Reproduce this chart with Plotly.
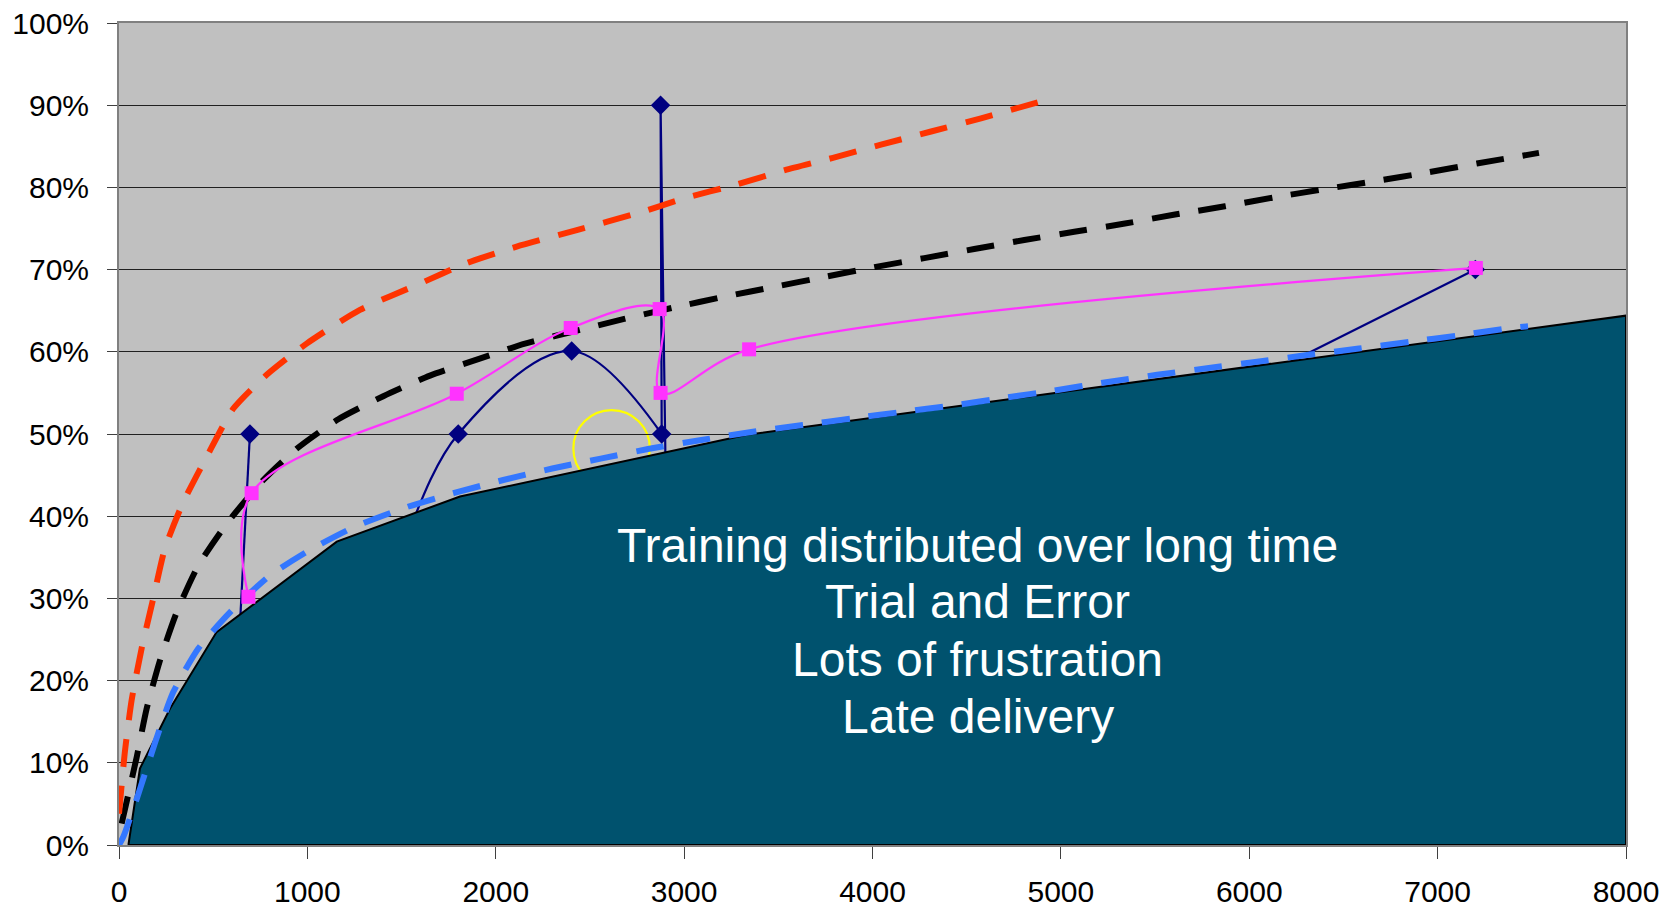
import plotly.graph_objects as go

# ---------------- data ----------------
x_ticks = [0, 1000, 2000, 3000, 4000, 5000, 6000, 7000, 8000]
y_ticks = [0, 10, 20, 30, 40, 50, 60, 70, 80, 90, 100]
y_tick_labels = ["0%", "10%", "20%", "30%", "40%", "50%", "60%", "70%", "80%", "90%", "100%"]

# filled teal region (boundary points)
area_x = [50, 111, 271, 518, 1156, 1810, 3334, 8000]
area_y = [0, 9.3, 16.6, 25.9, 36.9, 42.4, 49.9, 64.4]

# red dashed (upper) curve
red_x = [0, 32, 67, 120, 182, 244, 341, 465, 607, 784, 996, 1279, 1598, 1846, 2111,
         2430, 2758, 3005, 3270, 3535, 3790, 4045, 4311, 4576, 4900]
red_y = [3.8, 11.5, 17.6, 23.9, 30.0, 36.1, 41.7, 47.2, 53.1, 57.2, 61.0, 65.1, 68.3, 70.8, 72.8,
         74.8, 76.9, 78.7, 80.3, 82.1, 83.6, 85.2, 86.8, 88.4, 90.5]

# black dashed (middle) curve
black_x = [14, 32, 94, 147, 218, 306, 421, 572, 766, 943, 1164, 1403, 1651, 1907, 2155, 2417,
           2682, 2948, 3213, 3479, 3744, 4010, 4275, 4540, 4806, 5071, 5340, 5606, 5871, 6137,
           6402, 6677, 6943, 7208, 7538]
black_y = [2.6, 4.4, 10.7, 16.6, 22.5, 28.3, 34.0, 39.1, 44.4, 48.2, 51.8, 54.6, 57.1, 59.1, 61.0, 62.5,
           64.0, 65.4, 66.7, 67.9, 69.1, 70.3, 71.4, 72.5, 73.6, 74.6, 75.6, 76.7, 77.7, 78.8,
           79.8, 80.8, 81.8, 82.9, 84.2]

# blue dashed (lower) curve
blue_x = [0, 23, 97, 195, 288, 421, 589, 802, 1014, 1250, 1527, 1775, 2040, 2300, 2557, 2815,
          3100, 3374, 3630, 3896, 4161, 4436, 4701, 4967, 5240, 5511, 5776, 6042, 6307, 6582,
          6847, 7113, 7388, 7480]
blue_y = [0, 1.0, 5.8, 12.7, 18.6, 23.9, 28.3, 32.8, 35.9, 38.7, 41.1, 42.8, 44.4, 45.8, 47.0, 48.2,
          49.3, 50.3, 51.1, 51.9, 52.7, 53.5, 54.4, 55.3, 56.3, 57.2, 58.0, 58.8, 59.6, 60.4,
          61.2, 62.0, 62.9, 63.1]

# navy series (diamonds); some points lie hidden below the teal region
navy_x = [695, 615, 1250, 1801, 2403, 2881, 2875, 2905, 5000, 7200]
navy_y = [50, 15, 25, 50, 60.1, 50, 90, 40, 44.8, 70]
navy_marker_x = [695, 1801, 2403, 2881, 2875, 7200]
navy_marker_y = [50, 50, 60.1, 50, 90, 70]

# magenta series (squares)
mag_x = [687, 704, 1793, 2398, 2870, 2875, 3345, 7203]
mag_y = [30.2, 42.8, 54.9, 62.9, 65.2, 55.0, 60.3, 70.2]

# yellow circle (centre and radii in data units)
circle_cx, circle_cy, circle_rx, circle_ry = 2615, 48.25, 203, 4.66

text_lines = ["Training distributed over long time", "Trial and Error",
              "Lots of frustration", "Late delivery"]

# ---------------- figure ----------------
FONT = "Liberation Sans, Arial, sans-serif"
NAVY = "#000080"
fig = go.Figure()

# navy line pieces (drawn first so the teal region hides parts of it)
navy_pieces = [(0, 2, "linear"), (1, 6, "spline"), (5, 10, "linear")]
for a, b, shp in navy_pieces:
    fig.add_trace(go.Scatter(x=navy_x[a:b], y=navy_y[a:b], mode="lines",
                             line=dict(color=NAVY, width=2.2, shape=shp),
                             hoverinfo="skip"))

# teal region
fig.add_trace(go.Scatter(x=area_x + [area_x[-1], area_x[0]], y=area_y + [0, 0],
                         mode="lines", fill="toself", fillcolor="#00526E",
                         line=dict(color="black", width=2), hoverinfo="skip"))

dash_pat = "28px,19px"
fig.add_trace(go.Scatter(x=blue_x, y=blue_y, mode="lines",
                         line=dict(color="#3377FF", width=6, dash=dash_pat, shape="spline", smoothing=0.6)))
fig.add_trace(go.Scatter(x=black_x, y=black_y, mode="lines",
                         line=dict(color="#000000", width=6, dash=dash_pat, shape="spline", smoothing=0.6)))
fig.add_trace(go.Scatter(x=red_x, y=red_y, mode="lines",
                         line=dict(color="#FF3300", width=6, dash=dash_pat, shape="spline", smoothing=0.6)))

# navy markers
fig.add_trace(go.Scatter(x=navy_marker_x, y=navy_marker_y, mode="markers",
                         marker=dict(symbol="diamond", size=15, color=NAVY)))

# magenta series
fig.add_trace(go.Scatter(x=mag_x, y=mag_y, mode="lines+markers",
                         line=dict(color="#FF33FF", width=2.2, shape="spline", smoothing=1),
                         marker=dict(symbol="square", size=14, color="#FF33FF")))

fig.add_shape(type="circle", xref="x", yref="y",
              x0=circle_cx - circle_rx, x1=circle_cx + circle_rx,
              y0=circle_cy - circle_ry, y1=circle_cy + circle_ry,
              line=dict(color="#FFFF00", width=2.2), layer="below")

line_y = [0.3648, 0.2959, 0.2261, 0.1559]
for t, yy in zip(text_lines, line_y):
    fig.add_annotation(text=t, x=0.570, y=yy, xref="paper", yref="paper",
                       xanchor="center", yanchor="middle", showarrow=False,
                       font=dict(family=FONT, size=48, color="white"))

fig.update_layout(
    width=1671, height=907,
    margin=dict(l=119, r=45, t=23, b=62, pad=0, autoexpand=False),
    paper_bgcolor="white", plot_bgcolor="#C0C0C0",
    showlegend=False,
    font=dict(family=FONT, size=30, color="black"),
)
fig.update_xaxes(range=[0, 8000], tickvals=x_ticks, ticktext=[str(v) for v in x_ticks],
                 ticks="outside", ticklen=12, tickcolor="#404040", tickwidth=1,
                 showline=True, linecolor="#808080", linewidth=2, mirror=True,
                 showgrid=False, zeroline=False, ticklabelstandoff=7, automargin=False,
                 tickfont=dict(family=FONT, size=30, color="black"))
fig.update_yaxes(range=[0, 100], tickvals=y_ticks, ticktext=y_tick_labels,
                 ticks="outside", ticklen=10, tickcolor="#404040", tickwidth=1,
                 showline=True, linecolor="#808080", linewidth=2, mirror=True,
                 showgrid=True, gridcolor="#202020", gridwidth=1, zeroline=False,
                 ticklabelstandoff=12, automargin=False,
                 tickfont=dict(family=FONT, size=30, color="black"))

fig.write_html("out.html", config={"displayModeBar": False},
               post_script="document.body.style.margin='0';document.body.style.overflow='hidden';")
